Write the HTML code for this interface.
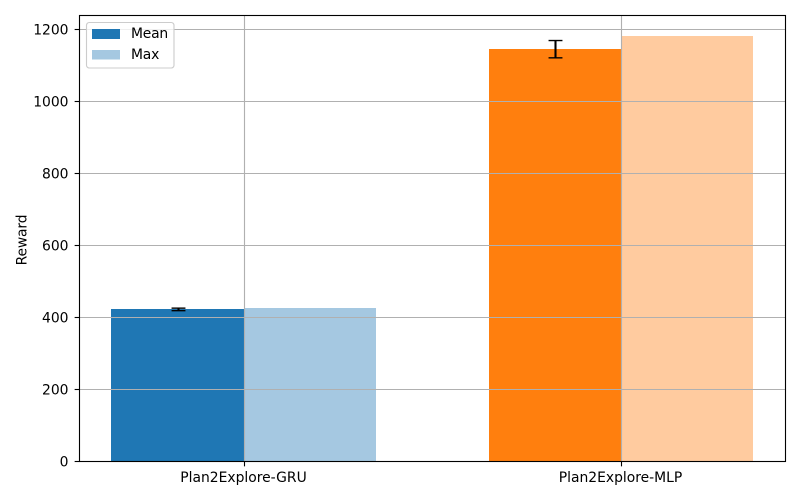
<!DOCTYPE html>
<html>
<head>
<meta charset="utf-8">
<style>
html,body{margin:0;padding:0;background:#fff;width:800px;height:500px;overflow:hidden}
svg{display:block}
text{font-family:"DejaVu Sans",sans-serif;font-size:13.89px;fill:#000}
</style>
</head>
<body>
<svg id="chart" width="800" height="500" viewBox="0 0 800 500" xmlns="http://www.w3.org/2000/svg"></svg>
<script>
const categories = ['Plan2Explore-GRU', 'Plan2Explore-MLP'];
const meanValues = [422, 1144];
const maxValues = [426, 1180];
const errorValues = [3.5, 24];
const yTicks = [0, 200, 400, 600, 800, 1000, 1200];
const meanColors = ['#1f77b4', '#ff7f0e'];
const maxColors = ['#a5c8e1', '#ffcb9f'];

const svg = document.getElementById('chart');
const NS = 'http://www.w3.org/2000/svg';
const plot = { left: 79.5, right: 785.5, top: 15.5, bottom: 461.5 };
const barWidth = 0.35;

function xScale(v) { return 243.6 + v * 377.6; }
function yScale(v) { return 461.5 - v * (432.5 / 1200); }
function snapX(v) { return Math.round(v) + 0.5; }
function snapY(v) { return Math.floor(v) + 0.5; }

function add(tag, attrs, parent) {
  const el = document.createElementNS(NS, tag);
  for (const k in attrs) el.setAttribute(k, attrs[k]);
  (parent || svg).appendChild(el);
  return el;
}

// Bars
categories.forEach(function (cat, i) {
  const x0 = Math.round(xScale(i - barWidth));
  const xc = Math.round(xScale(i));
  const x1 = Math.round(xScale(i + barWidth));
  const base = Math.round(yScale(0));
  const meanTop = Math.round(yScale(meanValues[i]));
  const maxTop = Math.round(yScale(maxValues[i]));
  const meanBar = add('rect', { x: x0, y: meanTop, width: xc - x0, height: base - meanTop, fill: meanColors[i] });
  
  
  const maxBar = add('rect', { x: xc, y: maxTop, width: x1 - xc, height: base - maxTop, fill: maxColors[i] });
  
  
});

// Grid
yTicks.forEach(function (t) {
  const y = snapY(yScale(t));
  if (t !== 0) {
    const g = add('line', { x1: plot.left, x2: plot.right, y1: y, y2: y, stroke: '#b0b0b0', 'stroke-width': 1.11 });
    
    
  }
});
categories.forEach(function (cat, i) {
  const x = snapX(xScale(i));
  const g = add('line', { x1: x, x2: x, y1: plot.top, y2: plot.bottom, stroke: '#b0b0b0', 'stroke-width': 1.11 });
  
  
});

// Error bars
categories.forEach(function (cat, i) {
  const cx = snapX(xScale(i - barWidth / 2));
  const hi = yScale(meanValues[i] + errorValues[i]);
  const lo = yScale(meanValues[i] - errorValues[i]);
  const g = add('g', {});
  
  
  add('line', { x1: cx, x2: cx, y1: hi, y2: lo, stroke: '#000', 'stroke-width': 2.08 }, g);
  add('line', { x1: cx - 6.95, x2: cx + 6.95, y1: hi, y2: hi, stroke: '#000', 'stroke-width': 1.39 }, g);
  add('line', { x1: cx - 6.95, x2: cx + 6.95, y1: lo, y2: lo, stroke: '#000', 'stroke-width': 1.39 }, g);
});

// Y ticks
yTicks.forEach(function (t) {
  const y = snapY(yScale(t));
  const tick = add('line', { x1: plot.left - 4.86, x2: plot.left, y1: y, y2: y, stroke: '#000', 'stroke-width': 1.11 });
  
  
  const label = add('text', { x: plot.left - 11, y: y + 5, 'text-anchor': 'end' });
  label.textContent = String(t);
  
  
});

// X ticks
categories.forEach(function (cat, i) {
  const x = snapX(xScale(i));
  const tick = add('line', { x1: x, x2: x, y1: plot.bottom, y2: plot.bottom + 4.86, stroke: '#000', 'stroke-width': 1.11 });
  
  
  const label = add('text', { x: x - 1, y: 482, 'text-anchor': 'middle' });
  label.textContent = cat;
  
  
});

// Frame
const frame = add('rect', { x: plot.left, y: plot.top, width: plot.right - plot.left, height: plot.bottom - plot.top, fill: 'none', stroke: '#000', 'stroke-width': 1.11 });



// Y axis title
const yTitle = add('text', { x: 0, y: 0, 'text-anchor': 'middle', 'letter-spacing': '-0.15', transform: 'translate(26.5 240) rotate(-90)' });
yTitle.textContent = 'Reward';



// Legend
const legend = add('g', {});


add('rect', { x: 86.5, y: 22.5, width: 87.5, height: 45.5, rx: 2.8, ry: 2.8, fill: '#fff', 'fill-opacity': 0.8, stroke: '#cccccc', 'stroke-width': 1.11 }, legend);
const legendMeanSwatch = add('rect', { x: 92, y: 29, width: 28, height: 10, fill: '#1f77b4' }, legend);


const legendMeanLabel = add('text', { x: 131, y: 38, 'letter-spacing': '-0.2' }, legend);
legendMeanLabel.textContent = 'Mean';


const legendMaxSwatch = add('rect', { x: 92, y: 50, width: 28, height: 9.5, fill: '#a5c8e1' }, legend);


const legendMaxLabel = add('text', { x: 131, y: 59, 'letter-spacing': '-0.2' }, legend);
legendMaxLabel.textContent = 'Max';


</script>
</body>
</html>
